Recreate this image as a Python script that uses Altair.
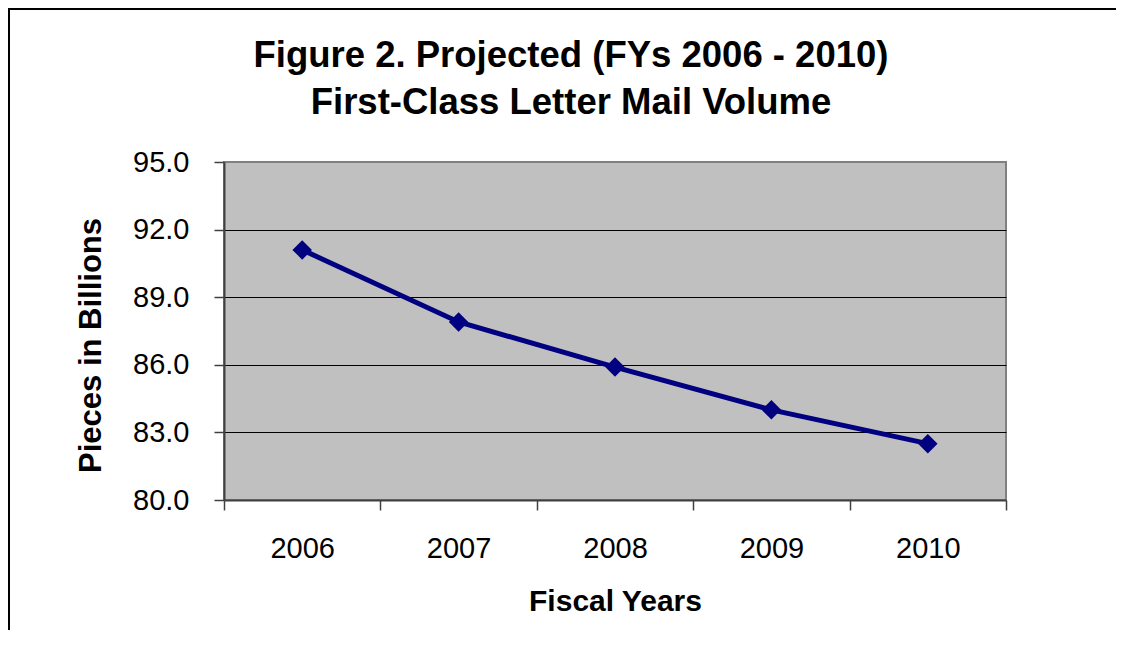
import altair as alt
import pandas as pd

years = ["2006", "2007", "2008", "2009", "2010"]
volume = [91.1, 87.9, 85.9, 84.0, 82.5]
y_ticks = [80, 83, 86, 89, 92, 95]
title_text = "Figure 2. Projected (FYs 2006 - 2010)\nFirst-Class Letter Mail Volume"

df = pd.DataFrame({"year": years, "volume": volume})
FONT = "Liberation Sans"

x_enc = alt.X(
    "year:N",
    scale=alt.Scale(type="band", paddingInner=0, paddingOuter=0),
    sort=years,
    axis=alt.Axis(
        title="Fiscal Years",
        labelAngle=0,
        tickBand="extent",
        tickSize=10,
        tickColor="#404040",
        tickWidth=1.5,
        domainColor="#404040",
        domainWidth=2,
        labelFont=FONT,
        labelFontSize=29,
        labelColor="black",
        labelPadding=24,
        titleFont=FONT,
        titleFontSize=30,
        titleFontWeight="bold",
        titleColor="black",
        titleBaseline="alphabetic",
        titleY=110,
        grid=False,
    ),
)

y_enc = alt.Y(
    "volume:Q",
    scale=alt.Scale(domain=[80, 95], nice=False, zero=False),
    axis=alt.Axis(
        title="Pieces in Billions",
        values=y_ticks,
        format=".1f",
        tickSize=10,
        tickColor="#404040",
        tickWidth=1.5,
        domainColor="#404040",
        domainWidth=2,
        labelFont=FONT,
        labelFontSize=29,
        labelColor="black",
        labelPadding=25,
        titleFont=FONT,
        titleFontSize=31,
        titleFontWeight="bold",
        titleColor="black",
        titleAngle=-90,
        titleAlign="center",
        titleBaseline="alphabetic",
        titleX=-124,
        titleY=183,
        grid=True,
        gridColor="black",
        gridWidth=1,
        gridOpacity={"condition": {"test": "datum.value == 95 || datum.value == 80", "value": 0}, "value": 1},
    ),
)

line = alt.Chart(df).mark_line(color="#000080", strokeWidth=5).encode(x=x_enc, y=y_enc)
points = alt.Chart(df).mark_point(
    shape="diamond", filled=True, size=380, color="#000080", opacity=1
).encode(x="year:N", y="volume:Q")

one = pd.DataFrame({"t": [title_text]})

title = alt.Chart(one).mark_text(
    font=FONT, fontSize=36.5, fontWeight="bold", color="black",
    lineBreak="\n", lineHeight=47, align="center", baseline="alphabetic",
).encode(text="t:N", x=alt.value(347), y=alt.value(-95))

border = alt.Chart(one).mark_rect(
    fillOpacity=0, stroke="black", strokeWidth=2
).encode(
    x=alt.value(-215), x2=alt.value(920), y=alt.value(-153), y2=alt.value(540)
)

chart = alt.layer(line, points, title, border).properties(
    width=782,
    height=338,
    background="white",
    autosize=alt.AutoSizeParams(type="none"),
    padding={"left": 216, "top": 154, "right": 110, "bottom": 130},
).configure_view(
    fill="#C0C0C0", stroke="#808080", strokeWidth=2
)

chart.save("out.html", embed_options={"renderer": "svg", "actions": False})
